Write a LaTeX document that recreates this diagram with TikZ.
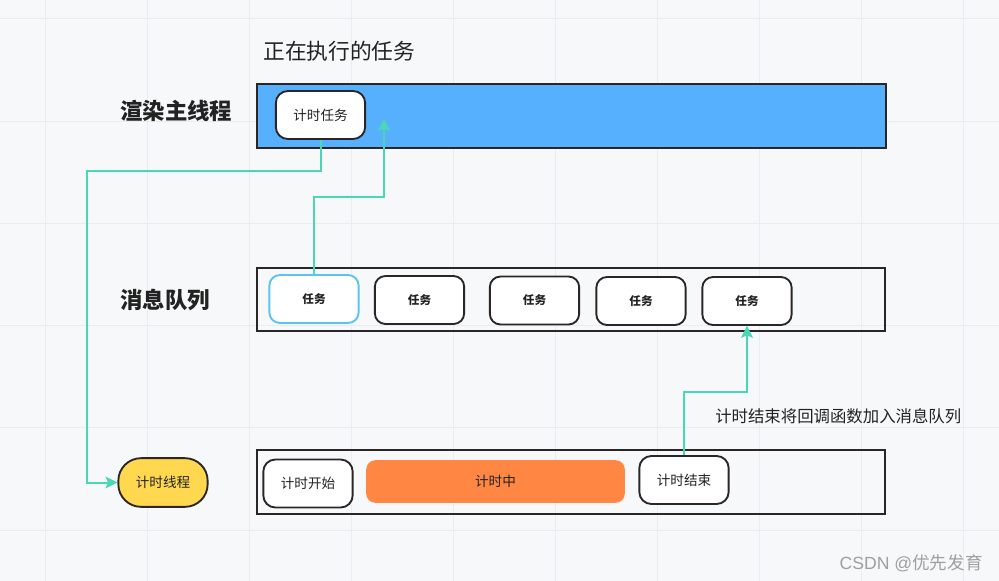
\documentclass[tikz,border=0pt]{standalone}
\usepackage{fontspec}
\newfontfamily\cjk{Noto Sans CJK SC}
\newfontfamily\wmfont{Liberation Sans}
\usetikzlibrary{arrows.meta,calc}
\definecolor{bgc}{HTML}{F7F8FA}
\definecolor{gridc}{HTML}{EBECEF}
\definecolor{bluef}{HTML}{56B0FE}
\definecolor{darkb}{HTML}{2A2628}
\definecolor{lblue}{HTML}{5BC4EE}
\definecolor{yel}{HTML}{FFD84F}
\definecolor{orng}{HTML}{FF8743}
\definecolor{grn}{HTML}{48D8B6}
\definecolor{txt}{HTML}{222222}
\tikzset{
  lane/.style={draw=darkb,line width=1.4pt,inner sep=0pt},
  taskbox/.style={draw=darkb,fill=white,line width=1.4pt,rounded corners=8pt,minimum width=67pt,minimum height=36pt,inner sep=0pt,font=\cjk\fontsize{8.7}{10}\selectfont\bfseries,text=txt},
  tbox/.style={draw=darkb,fill=white,line width=1.4pt,rounded corners=9pt,minimum width=67pt,minimum height=36pt,inner sep=0pt,font=\cjk\fontsize{10.2}{12}\selectfont,text=txt},
  lbl/.style={font=\cjk\fontsize{16.8}{19}\selectfont\bfseries,text=txt,inner sep=0pt},
  conn/.style={draw=grn,line width=1.5pt},
  arr/.style={conn,-{Stealth[length=9pt,width=9pt,inset=2pt,line width=0.5pt]}}
}
\begin{document}
\begin{tikzpicture}[x=0.75pt,y=-0.75pt]
\fill[bgc] (0,0) rectangle (999,581);
\useasboundingbox (0,0) rectangle (999,581);
\foreach \i in {0,...,9} \draw[gridc,line width=0.75pt] ({45+102*\i},0) -- ({45+102*\i},581);
\foreach \j in {0,...,5} \draw[gridc,line width=0.75pt] (0,{19+102.2*\j}) -- (999,{19+102.2*\j});

% titles
\node[font=\cjk\fontsize{16.3}{19}\selectfont,text=txt,anchor=west,inner sep=0pt] (title) at (263,51) {正在执行的任务};
\node[lbl,anchor=west] (lmain) at (120,111) {渲染主线程};
\node[lbl,anchor=west] (lqueue) at (120,300) {消息队列};

% lanes
\node[lane,fill=bluef,minimum width=471.75pt,minimum height=48pt,anchor=north west] (mainlane) at (256,83) {};
\node[lane,minimum width=471pt,minimum height=47.25pt,anchor=north west] (qlane) at (256,267) {};
\node[lane,minimum width=471pt,minimum height=48pt,anchor=north west] (tlane) at (256,449) {};

% main thread task
\node[tbox] (tt) at (320.5,115) {计时任务};

% queue tasks
\node[taskbox,draw=lblue] (q1) at (314,299) {任务};
\node[taskbox] (q2) at (419.5,300) {任务};
\node[taskbox] (q3) at (534.5,300.5) {任务};
\node[taskbox] (q4) at (641,301) {任务};
\node[taskbox] (q5) at (747,301) {任务};

% timer thread
\node[draw=darkb,fill=yel,line width=1.4pt,rounded corners=17pt,minimum width=67pt,minimum height=36.5pt,inner sep=0pt,font=\cjk\fontsize{10.2}{12}\selectfont,text=txt] (tc) at (163,482.5) {计时线程};
\node[tbox] (ts) at (308,483.5) {计时开始};
\node[fill=orng,rounded corners=7pt,minimum width=194pt,minimum height=32pt,inner sep=0pt,font=\cjk\fontsize{10.2}{12}\selectfont,text=txt] (tm) at (495.5,481.5) {计时中};
\node[tbox] (te) at (684,480) {计时结束};

% label
\node[font=\cjk\fontsize{12.3}{14}\selectfont,text=txt,anchor=west,inner sep=0pt] (cbl) at (715,416) {计时结束将回调函数加入消息队列};

% connectors
\coordinate (c1) at (87,171);
\draw[arr] (tt.south) |- (c1) |- (tc.west);
\coordinate (b1) at (384,197);
\coordinate (a2) at (384,119);
\draw[arr] (q1.north) |- (b1) -- (a2);
\coordinate (b2) at (747,392);
\draw[arr] (te.north) |- (b2) -- (q5.south);

% watermark
\node[font=\fontsize{13.2}{15}\selectfont,text=gray!75,anchor=east,inner sep=0pt] (wm) at (983,563) {\wmfont CSDN @\cjk 优先发育};
\end{tikzpicture}
\end{document}
